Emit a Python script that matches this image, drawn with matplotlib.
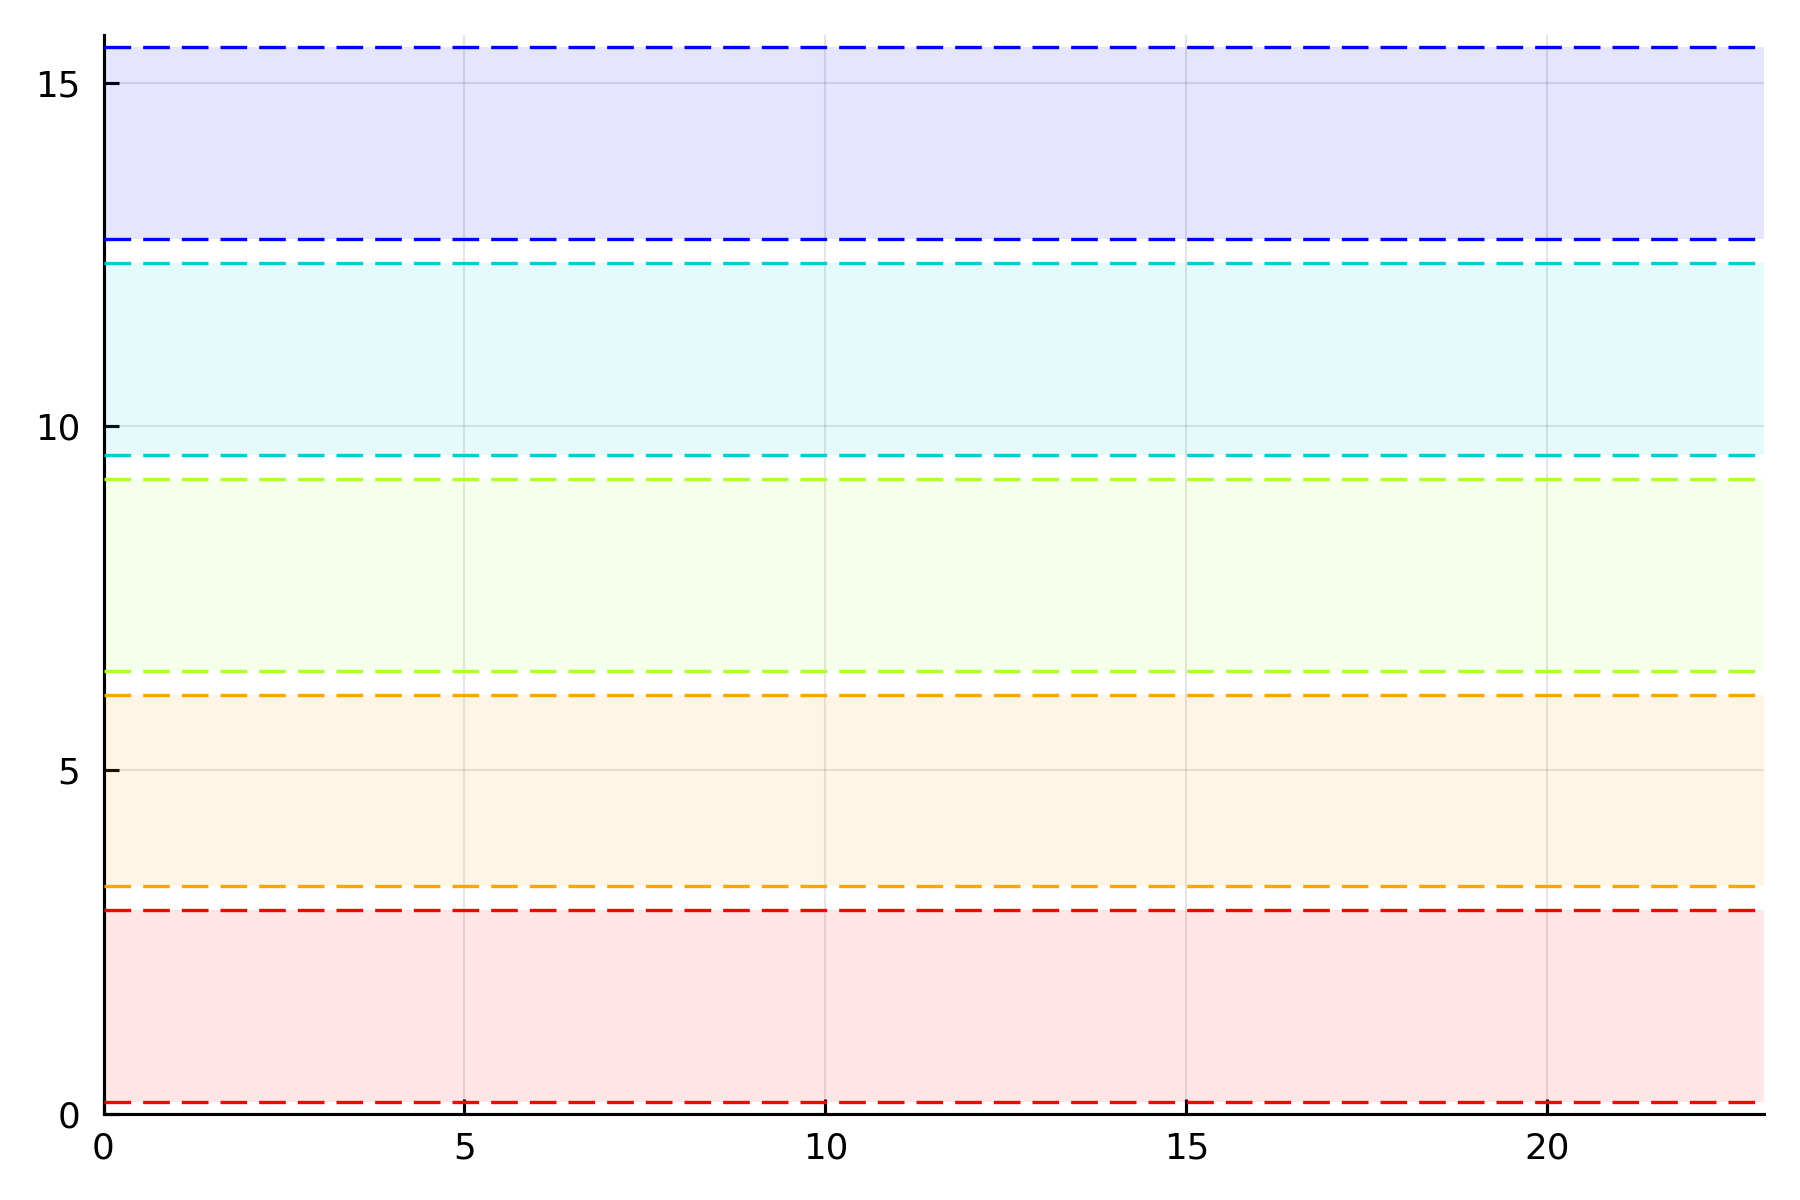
import matplotlib
matplotlib.use("Agg")
import matplotlib.pyplot as plt

# band edges
x_span = [0, 23]
lower = [0.167, 3.307, 6.447, 9.587, 12.727]
upper = [2.956, 6.097, 9.237, 12.377, 15.517]
colors = ["#FF0000", "#FFA500", "#ADFF2F", "#00CED1", "#0000FF"]

x_ticks = [0, 5, 10, 15, 20]
y_ticks = [0, 5, 10, 15]


def main():
    fig = plt.figure(figsize=(6, 4), dpi=300)
    ax = fig.add_axes([0.0575, 0.072, 0.9225, 0.899])

    lw = 0.8
    for lo, hi, c in zip(lower, upper, colors):
        ax.fill_between(x_span, [lo, lo], [hi, hi], color=c, alpha=0.1, linewidth=0, zorder=1)
        for yv in (lo, hi):
            ax.plot(x_span, [yv, yv], color=c, linewidth=lw, dashes=(8.0, 3.6), zorder=3)

    ax.set_xlim(0, 23)
    ax.set_ylim(0, 15.7)
    ax.set_xticks(x_ticks)
    ax.set_yticks(y_ticks)

    # Plots.jl look: faint grid, only left/bottom axis, inward ticks
    ax.grid(True, color="black", alpha=0.1, linewidth=0.5, zorder=0)
    ax.set_axisbelow(True)
    for s in ("top", "right"):
        ax.spines[s].set_visible(False)
    for s in ("left", "bottom"):
        ax.spines[s].set_linewidth(0.75)
    ax.tick_params(axis="x", direction="in", length=3.6, width=0.75, pad=4.2, labelsize=8.6)
    ax.tick_params(axis="y", direction="in", length=3.6, width=0.75, pad=5.6, labelsize=8.6)

    fig.savefig("out.png", dpi=300)


if __name__ == "__main__":
    main()
